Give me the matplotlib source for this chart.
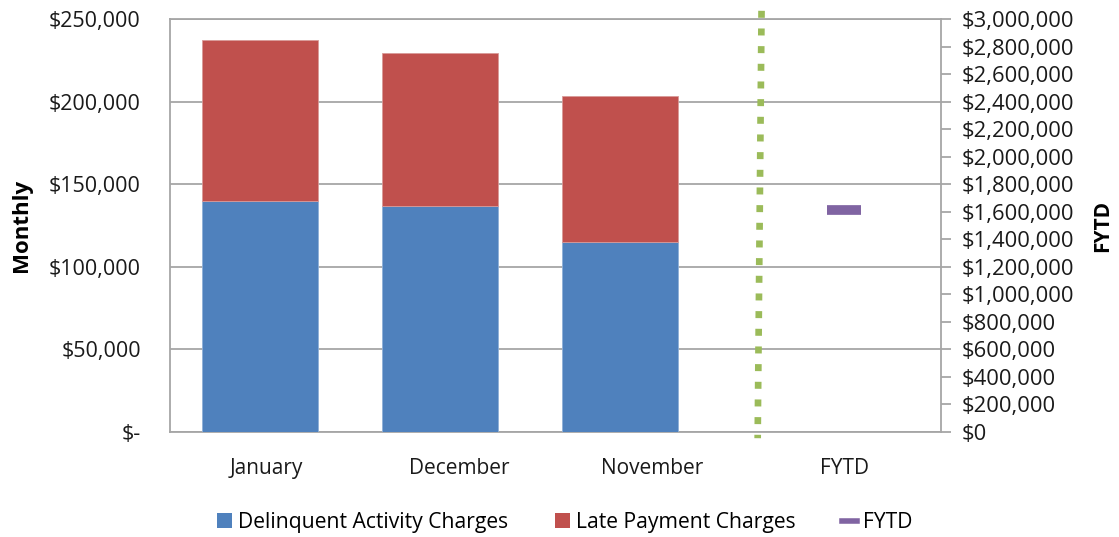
import matplotlib.pyplot as plt
from matplotlib.patches import Patch
from matplotlib.lines import Line2D
from matplotlib.ticker import FuncFormatter

plt.rcParams['font.family'] = ['Open Sans', 'DejaVu Sans']

months = ['January', 'December', 'November']
categories = ['January', 'December', 'November', 'FYTD']
delinquent = [140000, 137000, 115200]
late_payment = [97100, 92400, 88400]
fytd_value = [1612000]
divider_x = [3.07, 3.05]
divider_y = [3060000, -45000]

blue = '#4F81BD'
red = '#C0504D'
purple = '#8064A2'
green = '#9BBB59'
grid_c = '#A6A6A6'

fig = plt.figure(figsize=(11.19, 5.37), dpi=100)
ax = fig.add_axes([0.1519, 0.1955, 0.6888, 0.769])
ax.set_xlim(0, 4)
ax.set_ylim(0, 250000)
ax.set_yticks(range(0, 250001, 50000))
ax.yaxis.set_major_formatter(FuncFormatter(lambda v, p: '$-' if v == 0 else '${:,.0f}'.format(v)))
ax.set_xticks([0.5, 1.5, 2.5, 3.5])
ax.set_xticklabels(categories)
ax.tick_params(axis='x', length=0, pad=19, labelsize=15, colors='#1a1a1a')
ax.tick_params(axis='y', length=0, pad=21, labelsize=15.5, colors='#1a1a1a')
ax.grid(axis='y', color=grid_c, linewidth=1.3)
ax.set_axisbelow(True)
for s in ax.spines.values():
    s.set_color(grid_c)
    s.set_linewidth(1.3)
ax.set_ylabel('Monthly', fontweight='bold', fontsize=16)
ax.yaxis.set_label_coords(-0.179, 0.5)

# bars sit on their own category scale (narrower slots than the labels)
axb = ax.twiny()
axb.set_xlim(0, 4.282)
axb.set_ylim(0, 250000)
axb.axis('off')
pos = [i + 0.5 for i in range(len(months))]
axb.bar(pos, delinquent, width=0.645, color=blue, edgecolor='#8fb0d8', linewidth=0.6)
axb.bar(pos, late_payment, width=0.645, bottom=delinquent, color=red,
        edgecolor='#d89a98', linewidth=0.6)

ax2 = ax.twinx()
ax2.set_xlim(0, 4)
ax2.set_ylim(0, 3000000)
ax2.set_yticks(range(0, 3000001, 200000))
ax2.yaxis.set_major_formatter(FuncFormatter(lambda v, p: '${:,.0f}'.format(v)))
ax2.tick_params(axis='y', length=7, width=1.3, color=grid_c, pad=8, labelsize=15.8,
                colors='#1a1a1a')
ax2.tick_params(axis='y', color=grid_c)
for s in ax2.spines.values():
    s.set_visible(False)
ax2.set_ylabel('FYTD', fontweight='bold', fontsize=15, rotation=90)
ax2.yaxis.set_label_coords(1.197, 0.5)

ax2.plot(divider_x, divider_y, color=green, linewidth=4.8, linestyle=(0, (1.05, 1.6)),
         dash_capstyle='butt', clip_on=False)
ax2.plot([3.5], fytd_value, marker='_', markersize=24, markeredgewidth=7,
         color=purple, linestyle='none')

handles = [Patch(facecolor=blue, label='Delinquent Activity Charges'),
           Patch(facecolor=red, label='Late Payment Charges'),
           Line2D([], [], color=purple, linewidth=4, label='FYTD')]
fig.legend(handles=handles, loc='center', bbox_to_anchor=(0.505, 0.027), ncol=3,
           frameon=False, fontsize=15.2, handlelength=0.7, handleheight=0.7,
           handletextpad=0.3, columnspacing=2.2)

fig.savefig('out.png', dpi=100)
